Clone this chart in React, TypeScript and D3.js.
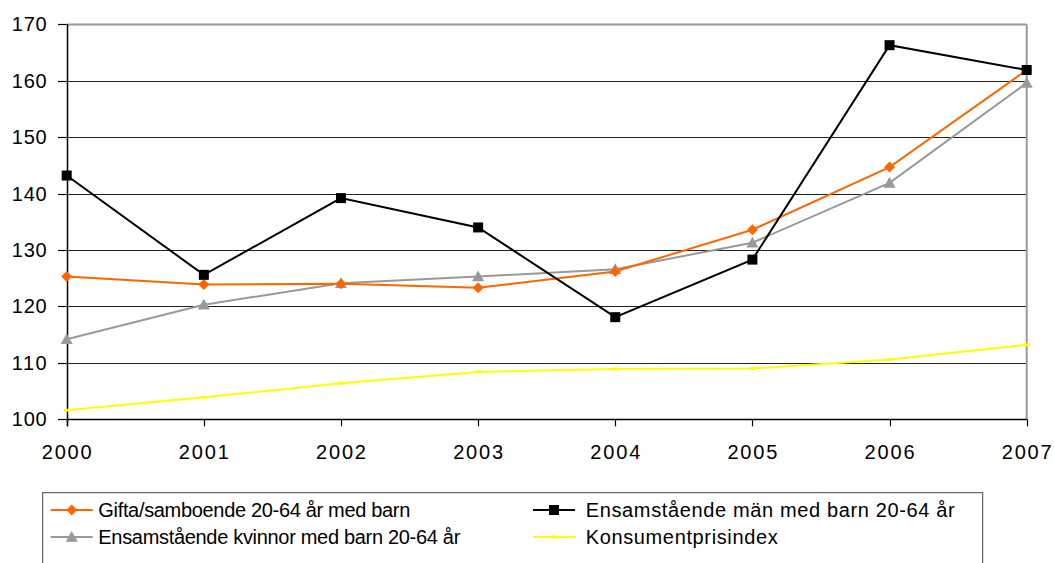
import React from "react";
import * as d3 from "d3";

const years = ["2000", "2001", "2002", "2003", "2004", "2005", "2006", "2007"];
const gifta = [125.3, 123.9, 124.0, 123.3, 126.2, 133.6, 144.7, 161.9];
const man = [143.2, 125.6, 139.2, 134.0, 118.1, 128.3, 166.3, 161.9];
const kvinnor = [114.2, 120.3, 124.1, 125.3, 126.6, 131.3, 141.9, 159.6];
const kpi = [101.6, 103.9, 106.4, 108.4, 108.9, 109.0, 110.6, 113.2];
const yTicks = [100, 110, 120, 130, 140, 150, 160, 170];

const seriesNames = [
  "Gifta/samboende 20-64 år med barn",
  "Ensamstående män med barn 20-64 år",
  "Ensamstående kvinnor med barn 20-64 år",
  "Konsumentprisindex",
];

const W = 1054;
const H = 563;
const left = 66.7;
const right = 1026.7;
const top = 24.3;
const bottom = 419.3;
const FONT = "'Liberation Sans', Arial, sans-serif";

type Marker = "diamond" | "square" | "triangle" | "dash";

function MarkerShape({ type, x, y, color }: { type: Marker; x: number; y: number; color: string }) {
  if (type === "diamond") {
    const r = 5.5;
    return <path d={`M${x},${y - r}L${x + r},${y}L${x},${y + r}L${x - r},${y}Z`} fill={color} />;
  }
  if (type === "square") {
    const s = 10;
    return <rect x={x - s / 2} y={y - s / 2} width={s} height={s} fill={color} />;
  }
  if (type === "triangle") {
    const r = 6;
    return <path d={`M${x},${y - r}L${x + r},${y + r * 0.8}L${x - r},${y + r * 0.8}Z`} fill={color} />;
  }
  return <rect x={x - 3} y={y - 1.5} width={6} height={3} fill={color} />;
}

export default function App() {
  const x = d3.scalePoint<string>().domain(years).range([left, right]);
  const y = d3.scaleLinear().domain([100, 170]).range([bottom, top]);

  const series: { name: string; values: number[]; color: string; marker: Marker; width: number }[] = [
    { name: seriesNames[0], values: gifta, color: "#FF6600", marker: "diamond", width: 2 },
    { name: seriesNames[1], values: man, color: "#000000", marker: "square", width: 2 },
    { name: seriesNames[2], values: kvinnor, color: "#999999", marker: "triangle", width: 2 },
    { name: seriesNames[3], values: kpi, color: "#FFFF00", marker: "dash", width: 2 },
  ];

  const line = d3
    .line<number>()
    .x((_, i) => x(years[i]) as number)
    .y((d) => y(d));

  const drawOrder = [3, 2, 0, 1];

  const legendItems = [
    { s: 0, lx: 50.7, tx: 98.3, ty: 510, tl: 312 },
    { s: 1, lx: 533, tx: 585.7, ty: 510, tl: 369 },
    { s: 2, lx: 50.7, tx: 98.3, ty: 537, tl: 362 },
    { s: 3, lx: 533, tx: 585.7, ty: 537, tl: 192 },
  ];

  return (
    <svg
      width={W}
      height={H}
      style={{ position: "absolute", left: 0, top: 0, background: "#fff" }}
      fontFamily={FONT}
    >
      <rect x={0} y={0} width={W} height={H} fill="#fff" />
      {yTicks.map((t) => (
        <line
          key={"g" + t}
          x1={left}
          x2={right}
          y1={Math.round(y(t)) + 0.5}
          y2={Math.round(y(t)) + 0.5}
          stroke={t === 170 ? "#999" : "#222"}
          strokeWidth={t === 170 ? 2 : 1}
        />
      ))}
      <line x1={right} x2={right} y1={top} y2={bottom} stroke="#999" strokeWidth={2} />
      <line x1={Math.round(left) + 0.5} x2={Math.round(left) + 0.5} y1={top} y2={bottom + 7} stroke="#000" strokeWidth={1.5} />
      {yTicks.map((t) => (
        <g key={"yt" + t}>
          <line x1={58} x2={left} y1={Math.round(y(t)) + 0.5} y2={Math.round(y(t)) + 0.5} stroke="#000" strokeWidth={1.2} />
          <text x={46.7} y={y(t) + 7} textAnchor="end" fontSize={20} fill="#000" textLength={35} lengthAdjust="spacing">
            {t}
          </text>
        </g>
      ))}
      <line x1={left} x2={right} y1={Math.round(bottom) + 0.5} y2={Math.round(bottom) + 0.5} stroke="#000" strokeWidth={1.5} />
      {years.map((yr) => (
        <g key={"xt" + yr}>
          <line
            x1={Math.round(x(yr) as number) + 0.5}
            x2={Math.round(x(yr) as number) + 0.5}
            y1={bottom}
            y2={bottom + 7}
            stroke="#000"
            strokeWidth={1.2}
          />
          <text x={(x(yr) as number) - 25} y={459} fontSize={20} fill="#000" textLength={50} lengthAdjust="spacing">
            {yr}
          </text>
        </g>
      ))}
      {drawOrder.map((si) => {
        const s = series[si];
        return (
          <g key={s.name}>
            <path d={line(s.values) || ""} fill="none" stroke={s.color} strokeWidth={s.width} />
            {s.values.map((v, i) => (
              <MarkerShape key={i} type={s.marker} x={x(years[i]) as number} y={y(v)} color={s.color} />
            ))}
          </g>
        );
      })}
      <rect x={42.7} y={492.7} width={940} height={80} fill="#fff" stroke="#444" strokeWidth={1} />
      {legendItems.map((it) => {
        const s = series[it.s];
        const cy = it.ty;
        return (
          <g key={"lg" + it.s}>
            <line x1={it.lx} x2={it.lx + 42} y1={cy} y2={cy} stroke={s.color} strokeWidth={2} />
            <MarkerShape type={s.marker} x={it.lx + 21} y={cy} color={s.color} />
            <text x={it.tx} y={cy + 7} fontSize={20} fill="#000" textLength={it.tl} lengthAdjust="spacing">
              {s.name}
            </text>
          </g>
        );
      })}
    </svg>
  );
}
